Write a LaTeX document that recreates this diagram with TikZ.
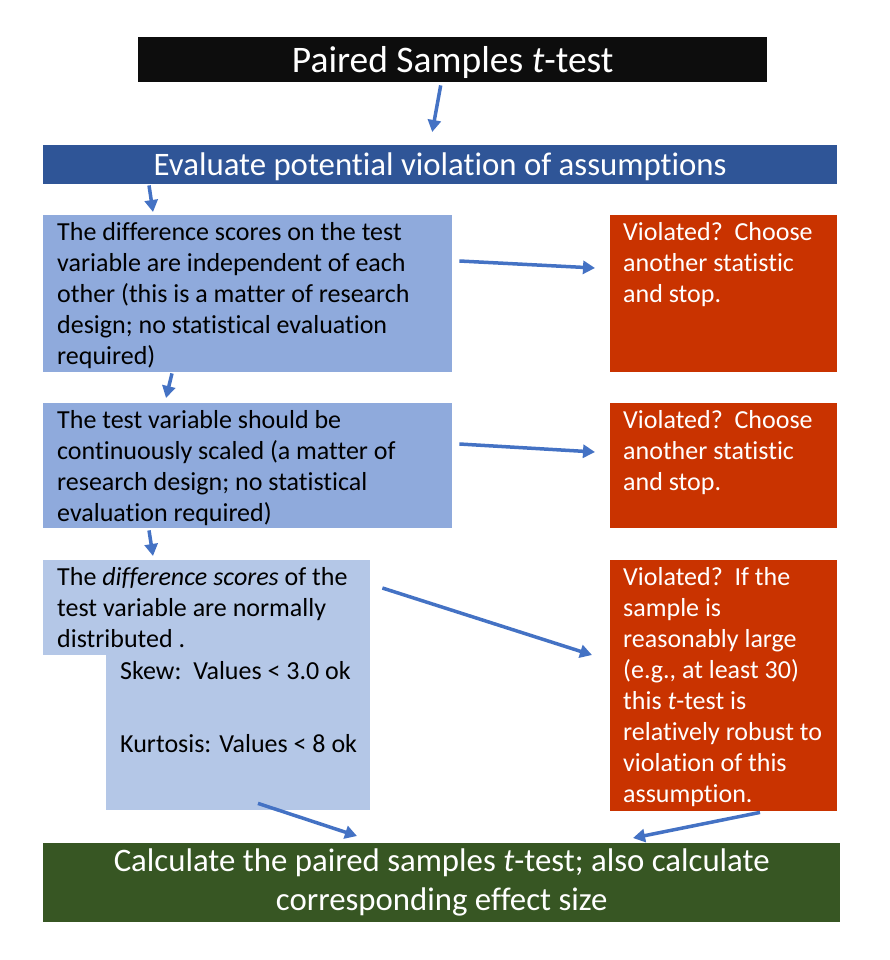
\documentclass[tikz,border=0pt]{standalone}
\usepackage{fontspec}
\setmainfont{Carlito}[Ligatures=NoCommon]
\usetikzlibrary{arrows.meta, positioning}
\definecolor{titlecol}{HTML}{0D0D0D}
\definecolor{headcol}{HTML}{2F5597}
\definecolor{assumcol}{HTML}{8FAADC}
\definecolor{normcol}{HTML}{B4C7E7}
\definecolor{violcol}{HTML}{C93300}
\definecolor{calccol}{HTML}{375623}
\definecolor{flowcol}{HTML}{4472C4}
\tikzset{
  boxnode/.style={rectangle, inner sep=0pt, anchor=north west},
  tnode/.style={boxnode, fill=titlecol, text=white, text height=28pt, text depth=1.5pt, font=\fontsize{37.5}{44}\selectfont},
  hnode/.style={boxnode, fill=headcol,  text=white, text height=24pt, text depth=2pt, font=\fontsize{32.8}{38}\selectfont},
  anode/.style={boxnode, fill=assumcol},
  nnode/.style={boxnode, fill=normcol},
  vnode/.style={boxnode, fill=violcol},
  cnode/.style={boxnode, fill=calccol,  text=white, align=center, font=\fontsize{32.8}{39}\selectfont},
  txt/.style={anchor=north west, inner sep=0pt, align=left, font=\fontsize{26}{31}\selectfont},
  vtxt/.style={txt, text=white},
  flow/.style={->, flowcol, line width=3.5pt},
}

\begin{document}
\begin{tikzpicture}[x=1pt, y=-1pt, >={Triangle[length=12pt, width=13pt]}]
  \useasboundingbox (0,0) rectangle (890,960);
  % boxes
  \node[tnode, minimum width=629, minimum height=45] (title) at (138,37) {Paired Samples \textit{t}-test};
  \node[hnode, minimum width=794, minimum height=39] (head) at (43,145) {Evaluate potential violation of assumptions};
  \node[anode, minimum width=409, minimum height=157] (indep) at (43,215) {};
  \node[vnode, minimum width=227, minimum height=157] (viol1) at (610,215) {};
  \node[anode, minimum width=409, minimum height=125] (cont) at (43,403) {};
  \node[vnode, minimum width=227, minimum height=125] (viol2) at (610,403) {};
  \node[nnode, minimum width=327, minimum height=95] (norm) at (43,560) {};
  \node[nnode, minimum width=264, minimum height=250] (normlow) at (106,560) {};
  \node[vnode, minimum width=227, minimum height=251] (viol3) at (610,560) {};
  \node[cnode, minimum width=797, minimum height=79] (calc) at (43,843)
    {Calculate the paired samples \textit{t}-test; also calculate\\corresponding effect size};

  % texts
  \node[txt] (indeptxt) at ([xshift=14pt, yshift=-7pt]indep.north west)
    {The difference scores on the test\\variable are independent of each\\other (this is a matter of research\\design; no statistical evaluation\\required)};
  \node[txt] (conttxt) at ([xshift=14pt, yshift=-7pt]cont.north west)
    {The test variable should be\\continuously scaled (a matter of\\research design; no statistical\\evaluation required)};
  \node[txt] (normtxt) at ([xshift=14pt, yshift=-7pt]norm.north west)
    {The \textit{difference scores} of the\\test variable are normally\\distributed .};
  \node[txt] (stattxt) at ([xshift=14pt, yshift=-101pt]normlow.north west)
    {Skew:\ \ Values < 3.0 ok\\[42pt]Kurtosis: Values < 8 ok};
  \node[vtxt] (viol1txt) at ([xshift=13pt, yshift=-7pt]viol1.north west)
    {Violated?\ \ Choose\\another statistic\\and stop.};
  \node[vtxt] (viol2txt) at ([xshift=13pt, yshift=-7pt]viol2.north west)
    {Violated?\ \ Choose\\another statistic\\and stop.};
  \node[vtxt] (viol3txt) at ([xshift=13pt, yshift=-7pt]viol3.north west)
    {Violated?\ \ If the\\sample is\\reasonably large\\(e.g., at least 30)\\this \textit{t}-test is\\relatively robust to\\violation of this\\assumption.};

  % arrows
  \draw[flow] ([xshift=-12pt, yshift=-3pt]title.south) -- ([xshift=-8pt, yshift=13pt]head.north);
  \draw[flow] ([xshift=106pt, yshift=-1pt]head.south west) -- ([xshift=110pt, yshift=3pt]indep.north west);
  \draw[flow] ([xshift=7pt, yshift=-46pt]indep.north east) -- ([xshift=-15pt, yshift=-53pt]viol1.north west);
  \draw[flow] ([xshift=129pt, yshift=-1pt]indep.south west) -- ([xshift=123pt, yshift=5pt]cont.north west);
  \draw[flow] ([xshift=7pt, yshift=-41pt]cont.north east) -- ([xshift=-15pt, yshift=-49pt]viol2.north west);
  \draw[flow] ([xshift=106pt, yshift=-2pt]cont.south west) -- ([xshift=110pt, yshift=4pt]norm.north west);
  \draw[flow] ([xshift=12pt, yshift=-28pt]norm.north east) -- ([xshift=-18pt, yshift=-95pt]viol3.north west);
  \draw[flow] ([xshift=152pt, yshift=7pt]normlow.south west) -- ([xshift=314pt, yshift=7pt]calc.north west);
  \draw[flow] ([xshift=150pt, yshift=-1pt]viol3.south west) -- ([xshift=590pt, yshift=5pt]calc.north west);
\end{tikzpicture}
\end{document}
